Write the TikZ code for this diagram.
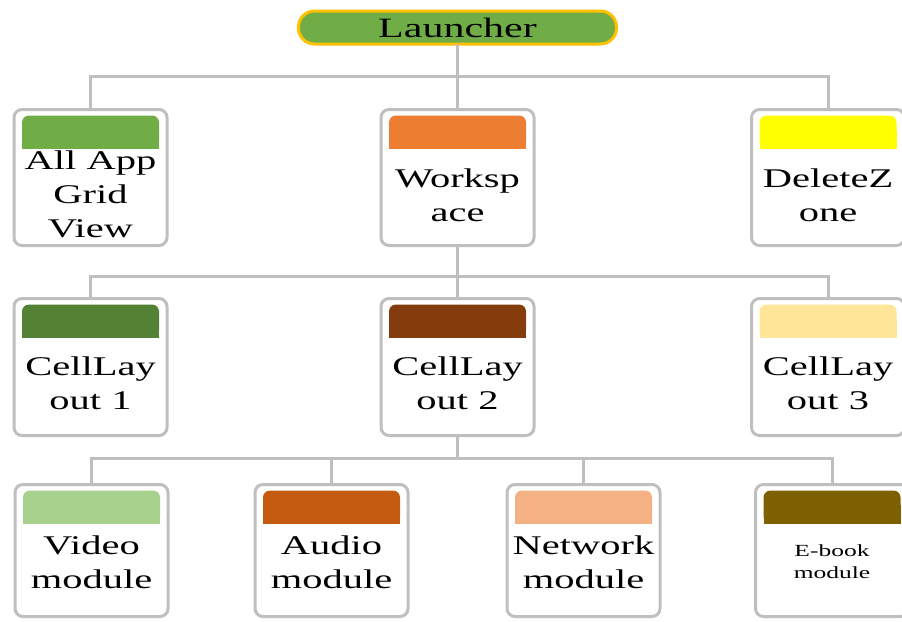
\documentclass[tikz,border=0pt]{standalone}
\usepackage{fontspec}
\setmainfont{Liberation Serif}[FakeStretch=1.5]
\usetikzlibrary{calc}
\definecolor{boxgray}{HTML}{BFBFBF}
\definecolor{linegray}{HTML}{BFBFBF}
\definecolor{lgreen}{HTML}{70AD47}
\definecolor{lgold}{HTML}{FFC000}
\definecolor{cApp}{HTML}{70AD47}
\definecolor{cWs}{HTML}{ED7D31}
\definecolor{cDel}{HTML}{FFFF00}
\definecolor{cCl1}{HTML}{548235}
\definecolor{cCl2}{HTML}{843C0C}
\definecolor{cCl3}{HTML}{FFE699}
\definecolor{cVid}{HTML}{A9D18E}
\definecolor{cAud}{HTML}{C55A11}
\definecolor{cNet}{HTML}{F4B183}
\definecolor{cEbk}{HTML}{7F6000}
\newcommand\cardhead[2]{%
  \fill[#2,rounded corners=7pt] ([xshift=8pt,yshift=-6pt]#1.north west) rectangle ([xshift=-8pt,yshift=-39pt]#1.north east);
  \fill[#2] ([xshift=8pt,yshift=-20pt]#1.north west) rectangle ([xshift=-8pt,yshift=-39pt]#1.north east);}
\begin{document}
\begin{tikzpicture}[x=1pt,y=-1pt,
  conn/.style={draw=linegray,line width=3pt},
  card/.style={draw=boxgray,line width=3pt,fill=white,rounded corners=8pt,minimum width=153pt,inner sep=0pt,outer sep=0pt},
  row1/.style={card,minimum height=136pt},
  row2/.style={card,minimum height=137pt},
  row3/.style={card,minimum height=132pt},
  lbl/.style={font=\fontsize{27}{34}\selectfont,align=center,inner sep=0pt},
  small/.style={font=\fontsize{17}{22}\selectfont,align=center,inner sep=0pt},
  pill/.style={draw=lgold,fill=lgreen,line width=3pt,rounded corners=16pt,minimum width=318pt,minimum height=33pt,inner sep=0pt,outer sep=0pt,font=\fontsize{28}{30}\selectfont}]
\useasboundingbox (0,0) rectangle (902,621);
\clip (0,0) rectangle (902,621);
% coordinates of the junctions
\coordinate (j1) at (457.5,76);
\coordinate (j2) at (457.5,276);
\coordinate (j3) at (457.5,458);
% nodes
\node[pill] (launcher) at (457.5,27.5) {Launcher};
\node[row1] (allapp) at (90.5,177.5) {};
\node[row1] (ws) at (457.5,177.5) {};
\node[row1] (delz) at (828,177.5) {};
\node[row2] (cl1) at (90.5,367) {};
\node[row2] (cl2) at (457.5,367) {};
\node[row2] (cl3) at (828,367) {};
\node[row3] (video) at (91.5,550.5) {};
\node[row3] (audio) at (331.5,550.5) {};
\node[row3] (net) at (583.5,550.5) {};
\node[row3] (ebook) at (832,550.5) {};
% connectors
\draw[conn] (launcher.south) -- (j1);
\draw[conn] (j1) -| (allapp.north);
\draw[conn] (j1) -| (delz.north);
\draw[conn] (j1) -- (ws.north);
\draw[conn] (ws.south) -- (j2);
\draw[conn] (j2) -| (cl1.north);
\draw[conn] (j2) -| (cl3.north);
\draw[conn] (j2) -- (cl2.north);
\draw[conn] (cl2.south) -- (j3);
\draw[conn] (j3) -| (video.north);
\draw[conn] (j3) -| (audio.north);
\draw[conn] (j3) -| (net.north);
\draw[conn] (j3) -| (ebook.north);
% headers
\cardhead{allapp}{cApp}
\cardhead{ws}{cWs}
\cardhead{delz}{cDel}
\cardhead{cl1}{cCl1}
\cardhead{cl2}{cCl2}
\cardhead{cl3}{cCl3}
\cardhead{video}{cVid}
\cardhead{audio}{cAud}
\cardhead{net}{cNet}
\cardhead{ebook}{cEbk}
% labels
\node[lbl] (allappT) at (90.5,194) {All App\\Grid\\View};
\node[lbl] (wsT) at (457.5,195) {Worksp\\ace};
\node[lbl] (delzT) at (828,195) {DeleteZ\\one};
\node[lbl] (cl1T) at (90.5,383) {CellLay\\out 1};
\node[lbl] (cl2T) at (457.5,383) {CellLay\\out 2};
\node[lbl] (cl3T) at (828,383) {CellLay\\out 3};
\node[lbl] (videoT) at (91.5,562) {Video\\module};
\node[lbl] (audioT) at (331.5,562) {Audio\\module};
\node[lbl] (netT) at (583.5,562) {Network\\module};
\node[small] (ebookT) at (832,562) {E-book\\module};
\end{tikzpicture}
\end{document}
